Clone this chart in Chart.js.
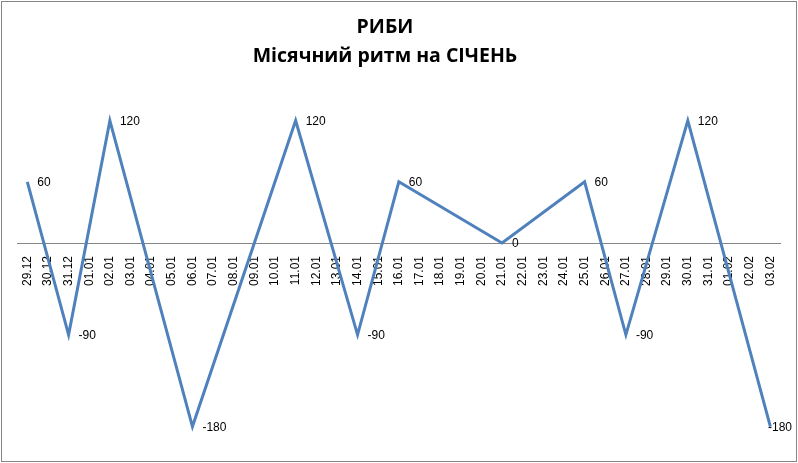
<!DOCTYPE html>
<html>
<head>
<meta charset="utf-8">
<script src="https://cdn.jsdelivr.net/npm/chart.js@4.4.0/dist/chart.umd.min.js"></script>
<style>
    html, body { margin: 0; padding: 0; background: #fff; }
    #wrap { width: 798px; height: 463px; }
</style>
</head>
<body>
<div id="wrap"><canvas id="chart" width="798" height="463"></canvas></div>
<script>
const titleLines = ['РИБИ', 'Місячний ритм на СІЧЕНЬ'];

const dates = [
    '29.12', '30.12', '31.12',
    '01.01', '02.01', '03.01', '04.01', '05.01', '06.01', '07.01', '08.01', '09.01', '10.01',
    '11.01', '12.01', '13.01', '14.01', '15.01', '16.01', '17.01', '18.01', '19.01', '20.01',
    '21.01', '22.01', '23.01', '24.01', '25.01', '26.01', '27.01', '28.01', '29.01', '30.01', '31.01',
    '01.02', '02.02', '03.02'
];

// only the turning points are given, the line runs straight between them
const rhythm = [
    60, null, -90,
    null, 120, null, null, null, -180, null, null, null, null,
    120, null, null, -90, null, 60, null, null, null, null,
    0, null, null, null, 60, null, -90, null, null, 120, null,
    null, null, -180
];

const yMin = -200;
const yMax = 150;

const frame = {
    id: 'frame',
    afterDraw(chart) {
        const ctx = chart.ctx;
        ctx.save();
        ctx.strokeStyle = '#868686';
        ctx.lineWidth = 1;
        ctx.strokeRect(1.5, 1.5, chart.width - 3, chart.height - 3);

        // title
        ctx.fillStyle = '#000';
        ctx.font = 'bold 19.5px "Open Sans"';
        ctx.textAlign = 'center';
        ctx.textBaseline = 'alphabetic';
        ctx.fillText(titleLines[0], 385, 33);
        ctx.fillText(titleLines[1], 385, 62);

        // point labels to the right of each turning point
        const meta = chart.getDatasetMeta(0);
        ctx.font = '12px "Liberation Sans"';
        ctx.textAlign = 'left';
        ctx.textBaseline = 'middle';
        meta.data.forEach((pt, i) => {
            const v = rhythm[i];
            if (v === null) return;
            const txt = String(v);
            let x = pt.x + 10;
            const w = ctx.measureText(txt).width;
            if (x + w > chart.width - 6) x = chart.width - 6 - w;
            ctx.fillText(txt, x, pt.y + 1);
        });
        ctx.restore();
    }
};

new Chart(document.getElementById('chart'), {
    type: 'line',
    data: {
        labels: dates,
        datasets: [{
            data: rhythm,
            borderColor: '#4F81BD',
            borderWidth: 3,
            pointRadius: 0,
            spanGaps: true,
            tension: 0
        }]
    },
    options: {
        responsive: false,
        animation: false,
        devicePixelRatio: 1,
        layout: { padding: { top: 90, bottom: 16, left: 17, right: 17 } },
        plugins: {
            legend: { display: false },
            title: { display: false },
            tooltip: { enabled: false }
        },
        scales: {
            x: {
                offset: true,
                position: { y: 0 },
                grid: { display: false, drawTicks: false },
                border: { display: true, color: '#868686', width: 1 },
                ticks: {
                    autoSkip: false,
                    minRotation: 90,
                    maxRotation: 90,
                    padding: 13,
                    color: '#000',
                    font: { family: 'Liberation Sans', size: 12 }
                }
            },
            y: {
                display: false,
                min: yMin,
                max: yMax
            }
        }
    },
    plugins: [frame]
});
</script>
</body>
</html>
